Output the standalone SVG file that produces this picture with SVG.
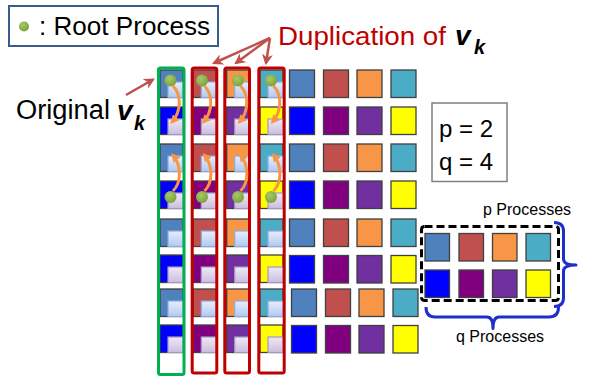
<svg xmlns="http://www.w3.org/2000/svg" width="592" height="379" viewBox="0 0 592 379">
<style>
text{font-family:"Liberation Sans",Arial,sans-serif}
.sq{stroke:#404040;stroke-width:1.3}
.c1{fill:#4F81BD}.c2{fill:#C0504D}.c3{fill:#F79646}.c4{fill:#4BACC6}
.d1{fill:#0000FF}.d2{fill:#800080}.d3{fill:#7030A0}.d4{fill:#FFFF00}
.lb{fill:url(#gb);stroke:#8EAADB;stroke-width:1.2}
.ll{fill:url(#gl);stroke:#A895C4;stroke-width:1.2}
.gbox{fill:none;stroke:#00B050;stroke-width:3}
.rbox{fill:none;stroke:#C00000;stroke-width:3}
.dot{fill:url(#gd)}
.oarr{fill:none;stroke:#F79646;stroke-width:3;marker-end:url(#mo)}
.rarr{fill:none;stroke:#C0504D;stroke-width:2.5;marker-end:url(#mr)}
.brace{fill:none;stroke:#1F2FCC;stroke-width:3;stroke-linejoin:round}
.vk{font-weight:bold;font-style:italic;fill:#000}
</style>
<defs>
<linearGradient id="gb" x1="0" y1="0" x2="0" y2="1"><stop offset="0" stop-color="#E6EEFC"/><stop offset="1" stop-color="#B2C9F1"/></linearGradient>
<linearGradient id="gl" x1="0" y1="0" x2="0" y2="1"><stop offset="0" stop-color="#EFE9F5"/><stop offset="1" stop-color="#CBBEDF"/></linearGradient>
<radialGradient id="gd" cx="0.4" cy="0.35" r="0.7"><stop offset="0" stop-color="#A9C86A"/><stop offset="1" stop-color="#7AA035"/></radialGradient>
<marker id="mo" viewBox="0 0 10 10" refX="7" refY="5" markerWidth="9" markerHeight="9" markerUnits="userSpaceOnUse" orient="auto"><path d="M0,0 L10,5 L0,10 Z" fill="#F79646"/></marker>
<marker id="mr" viewBox="0 0 10 10" refX="8" refY="5" markerWidth="11" markerHeight="11" markerUnits="userSpaceOnUse" orient="auto"><path d="M0,0 L10,5 L0,10 L3,5 Z" fill="#C0504D"/></marker>
</defs>

<g id="legend">
<rect x="9" y="6" width="209" height="40" fill="#fff" stroke="#385D8A" stroke-width="2"/>
<circle class="dot" cx="24" cy="26.5" r="5"/>
<text x="39" y="35" font-size="26" textLength="171" lengthAdjust="spacingAndGlyphs">: Root Process</text>
</g>

<g id="label-original">
<text x="16" y="119" font-size="27" textLength="94" lengthAdjust="spacingAndGlyphs">Original</text>
<text x="117" y="120" font-size="28" class="vk">v</text>
<text x="134" y="130" font-size="20" class="vk">k</text>
</g>

<g id="label-duplication">
<text x="278" y="45" font-size="26" fill="#C00000" textLength="168" lengthAdjust="spacingAndGlyphs">Duplication of</text>
<text x="455" y="45" font-size="28" class="vk">v</text>
<text x="474" y="54" font-size="20" class="vk">k</text>
</g>

<g id="params">
<rect x="432" y="103" width="75" height="78.5" fill="#fff" stroke="#7F7F7F" stroke-width="1.5"/>
<text x="439" y="137" font-size="24">p = 2</text>
<text x="439" y="170" font-size="24">q = 4</text>
</g>

<g id="col-original">
<rect class="sq c1" x="160" y="70" width="23" height="27.5"/><rect class="lb" x="168" y="82" width="15" height="15.5"/>
<rect class="sq d1" x="160" y="107" width="23" height="27.5"/><rect class="ll" x="168" y="119" width="15" height="15.5"/>
<rect class="sq c1" x="160" y="144" width="23" height="27.5"/><rect class="lb" x="168" y="156" width="15" height="15.5"/>
<rect class="sq d1" x="160" y="181" width="23" height="27.5"/><rect class="ll" x="168" y="193" width="15" height="15.5"/>
<rect class="sq c1" x="160" y="219" width="23" height="27.5"/><rect class="lb" x="168" y="231" width="15" height="15.5"/>
<rect class="sq d1" x="160" y="255" width="23" height="27.5"/><rect class="ll" x="168" y="267" width="15" height="15.5"/>
<rect class="sq c1" x="160" y="289" width="23" height="27.5"/><rect class="lb" x="168" y="301" width="15" height="15.5"/>
<rect class="sq d1" x="160" y="325" width="23" height="27.5"/><rect class="ll" x="168" y="337" width="15" height="15.5"/>
<rect class="gbox" x="158.5" y="68" width="25.5" height="306.5" rx="2"/>
</g>

<g id="col-dup1">
<rect class="sq c2" x="193.3" y="70" width="23" height="27.5"/><rect class="lb" x="201.3" y="82" width="15" height="15.5"/>
<rect class="sq d2" x="193.3" y="107" width="23" height="27.5"/><rect class="ll" x="201.3" y="119" width="15" height="15.5"/>
<rect class="sq c2" x="193.3" y="144" width="23" height="27.5"/><rect class="lb" x="201.3" y="156" width="15" height="15.5"/>
<rect class="sq d2" x="193.3" y="181" width="23" height="27.5"/><rect class="ll" x="201.3" y="193" width="15" height="15.5"/>
<rect class="sq c2" x="193.3" y="219" width="23" height="27.5"/><rect class="lb" x="201.3" y="231" width="15" height="15.5"/>
<rect class="sq d2" x="193.3" y="255" width="23" height="27.5"/><rect class="ll" x="201.3" y="267" width="15" height="15.5"/>
<rect class="sq c2" x="193.3" y="289" width="23" height="27.5"/><rect class="lb" x="201.3" y="301" width="15" height="15.5"/>
<rect class="sq d2" x="193.3" y="325" width="23" height="27.5"/><rect class="ll" x="201.3" y="337" width="15" height="15.5"/>
<rect class="rbox" x="192.2" y="68" width="24.6" height="305" rx="2"/>
</g>

<g id="col-dup2">
<rect class="sq c3" x="226.7" y="70" width="23" height="27.5"/><rect class="lb" x="234.7" y="82" width="15" height="15.5"/>
<rect class="sq d3" x="226.7" y="107" width="23" height="27.5"/><rect class="ll" x="234.7" y="119" width="15" height="15.5"/>
<rect class="sq c3" x="226.7" y="144" width="23" height="27.5"/><rect class="lb" x="234.7" y="156" width="15" height="15.5"/>
<rect class="sq d3" x="226.7" y="181" width="23" height="27.5"/><rect class="ll" x="234.7" y="193" width="15" height="15.5"/>
<rect class="sq c3" x="226.7" y="219" width="23" height="27.5"/><rect class="lb" x="234.7" y="231" width="15" height="15.5"/>
<rect class="sq d3" x="226.7" y="255" width="23" height="27.5"/><rect class="ll" x="234.7" y="267" width="15" height="15.5"/>
<rect class="sq c3" x="226.7" y="289" width="23" height="27.5"/><rect class="lb" x="234.7" y="301" width="15" height="15.5"/>
<rect class="sq d3" x="226.7" y="325" width="23" height="27.5"/><rect class="ll" x="234.7" y="337" width="15" height="15.5"/>
<rect class="rbox" x="224.8" y="68" width="24.7" height="305" rx="2"/>
</g>

<g id="col-dup3">
<rect class="sq c4" x="260" y="70" width="23" height="27.5"/><rect class="lb" x="268" y="82" width="15" height="15.5"/>
<rect class="sq d4" x="260" y="107" width="23" height="27.5"/><rect class="ll" x="268" y="119" width="15" height="15.5"/>
<rect class="sq c4" x="260" y="144" width="23" height="27.5"/><rect class="lb" x="268" y="156" width="15" height="15.5"/>
<rect class="sq d4" x="260" y="181" width="23" height="27.5"/><rect class="ll" x="268" y="193" width="15" height="15.5"/>
<rect class="sq c4" x="260" y="219" width="23" height="27.5"/><rect class="lb" x="268" y="231" width="15" height="15.5"/>
<rect class="sq d4" x="260" y="255" width="23" height="27.5"/><rect class="ll" x="268" y="267" width="15" height="15.5"/>
<rect class="sq c4" x="260" y="289" width="23" height="27.5"/><rect class="lb" x="268" y="301" width="15" height="15.5"/>
<rect class="sq d4" x="260" y="325" width="23" height="27.5"/><rect class="ll" x="268" y="337" width="15" height="15.5"/>
<rect class="rbox" x="258.8" y="68" width="25.4" height="305" rx="2"/>
</g>

<g id="grid">
<rect class="sq c1" x="289.5" y="70" width="25" height="27.5"/><rect class="sq c2" x="323.5" y="70" width="25" height="27.5"/><rect class="sq c3" x="357" y="70" width="25" height="27.5"/><rect class="sq c4" x="391" y="70" width="25" height="27.5"/>
<rect class="sq d1" x="289.5" y="107" width="25" height="27.5"/><rect class="sq d2" x="323.5" y="107" width="25" height="27.5"/><rect class="sq d3" x="357" y="107" width="25" height="27.5"/><rect class="sq d4" x="391" y="107" width="25" height="27.5"/>
<rect class="sq c1" x="289.5" y="144" width="25" height="27.5"/><rect class="sq c2" x="323.5" y="144" width="25" height="27.5"/><rect class="sq c3" x="357" y="144" width="25" height="27.5"/><rect class="sq c4" x="391" y="144" width="25" height="27.5"/>
<rect class="sq d1" x="289.5" y="181" width="25" height="27.5"/><rect class="sq d2" x="323.5" y="181" width="25" height="27.5"/><rect class="sq d3" x="357" y="181" width="25" height="27.5"/><rect class="sq d4" x="391" y="181" width="25" height="27.5"/>
<rect class="sq c1" x="289.5" y="219" width="25" height="27.5"/><rect class="sq c2" x="323.5" y="219" width="25" height="27.5"/><rect class="sq c3" x="357" y="219" width="25" height="27.5"/><rect class="sq c4" x="391" y="219" width="25" height="27.5"/>
<rect class="sq d1" x="289.5" y="255.5" width="25" height="27.5"/><rect class="sq d2" x="323.5" y="255.5" width="25" height="27.5"/><rect class="sq d3" x="357" y="255.5" width="25" height="27.5"/><rect class="sq d4" x="391" y="255.5" width="25" height="27.5"/>
<rect class="sq c1" x="291.5" y="289" width="25" height="27.5"/><rect class="sq c2" x="325.5" y="289" width="25" height="27.5"/><rect class="sq c3" x="359" y="289" width="25" height="27.5"/><rect class="sq c4" x="393" y="289" width="25" height="27.5"/>
<rect class="sq d1" x="291.5" y="325.5" width="25" height="27.5"/><rect class="sq d2" x="325.5" y="325.5" width="25" height="27.5"/><rect class="sq d3" x="359" y="325.5" width="25" height="27.5"/><rect class="sq d4" x="393" y="325.5" width="25" height="27.5"/>
</g>

<g id="process-block">
<rect x="421.5" y="226.5" width="137" height="74" rx="3" fill="none" stroke="#000" stroke-width="3" stroke-dasharray="8 4"/>
<rect class="sq c1" x="425" y="233.5" width="24.5" height="27.5"/><rect class="sq c2" x="459" y="233.5" width="24.5" height="27.5"/><rect class="sq c3" x="492.5" y="233.5" width="24.5" height="27.5"/><rect class="sq c4" x="526" y="233.5" width="24.5" height="27.5"/>
<rect class="sq d1" x="425" y="270" width="24.5" height="27.5"/><rect class="sq d2" x="459" y="270" width="24.5" height="27.5"/><rect class="sq d3" x="492.5" y="270" width="24.5" height="27.5"/><rect class="sq d4" x="526" y="270" width="24.5" height="27.5"/>
</g>

<g id="p-brace">
<path class="brace" d="M554,222.5 Q563.5,222.5 563.5,231 L563.5,259 Q563.5,265 576,265 Q563.5,265 563.5,271 L563.5,298 Q563.5,306.5 554,306.5"/>
<text x="483" y="215" font-size="16">p Processes</text>
</g>

<g id="q-brace">
<path class="brace" d="M426,307 Q426,317 435,317 L487,317 Q493,317 493,328.5 Q493,317 499,317 L549,317 Q558.5,317 558.5,307"/>
<text x="456" y="342" font-size="16">q Processes</text>
</g>

<g id="connectors">
<path class="rarr" d="M270,38 L214,63"/>
<path class="rarr" d="M270,38 L236,63"/>
<path class="rarr" d="M270,38 L266,63"/>
<path class="rarr" d="M126,95 L153,79.5"/>
<path class="oarr" d="M173,86 C182,95 181,112 172,122"/>
<path class="oarr" d="M204.5,86 C213.5,95 212.5,112 203.5,122"/>
<path class="oarr" d="M240.5,86 C249.5,95 248.5,112 239.5,122"/>
<path class="oarr" d="M273.5,86 C282.5,95 281.5,112 272.5,122"/>
<path class="oarr" d="M173,191 C182,182 181,165 173,155"/>
<path class="oarr" d="M204.5,191 C213.5,182 212.5,165 204.5,155"/>
<path class="oarr" d="M240.5,191 C249.5,182 248.5,165 240.5,155"/>
<path class="oarr" d="M273.5,191 C282.5,182 281.5,165 273.5,155"/>
</g>

<g id="roots">
<circle class="dot" cx="170.5" cy="80.5" r="6"/>
<circle class="dot" cx="202" cy="80.5" r="6"/>
<circle class="dot" cx="238" cy="80.5" r="6"/>
<circle class="dot" cx="271" cy="80.5" r="6"/>
<circle class="dot" cx="170.5" cy="197" r="6"/>
<circle class="dot" cx="202" cy="197" r="6"/>
<circle class="dot" cx="238" cy="197" r="6"/>
<circle class="dot" cx="271" cy="197" r="6"/>
</g>
</svg>
